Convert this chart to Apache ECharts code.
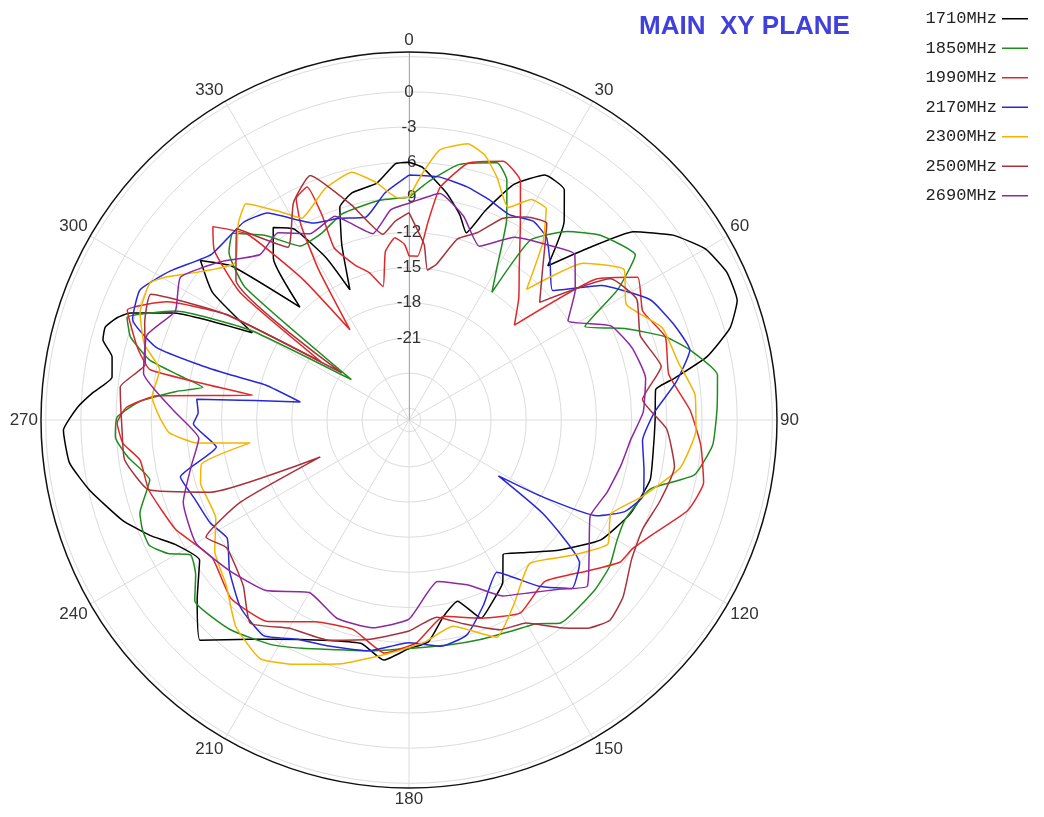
<!DOCTYPE html>
<html><head><meta charset="utf-8">
<script src="https://cdn.jsdelivr.net/npm/echarts@6/dist/echarts.min.js"></script>
<style>html,body{margin:0;padding:0;background:#fff;}#c{width:1044px;height:817px;}</style>
</head><body><div id="c"></div>
<script>
// [angle(deg), gain(dB)]
const f1710 = [[0,-6],[3,-6.4],[9.5,-8.4],[14,-10],[17,-11.3],[20,-9],[24,-6],[29,-4.1],[34,-4.3],[38,-6.5],[42,-10.3],[46,-7],[50,-3],[55,-0.5],[60,1.2],[65,1.9],[70,1.8],[74,0.5],[78,-2],[81,-5],[83,-6.8],[90,-7],[97,-7],[104,-6.8],[113,-7.5],[122,-8.7],[130.7,-11],[140,-13.2],[145,-14],[150,-12],[155,-11],[160,-10],[165,-12],[170,-11],[175,-9],[180,-8.5],[186,-7.4],[192,-8.5],[199.8,-8],[206.4,-7.1],[215.9,-4.9],[223.5,-2.1],[229.7,-4.3],[236.2,-6.5],[242,-5.4],[246,-3.8],[250.7,-2.1],[257.6,-0.1],[262.8,1.2],[268.3,1.5],[272.2,0.3],[274.9,-0.9],[278.2,-2.4],[282,-2.1],[284.7,-1],[287,-0.9],[289.3,-1.6],[291,-2.5],[294.4,-5.9],[299.1,-12.7],[303,-8],[307.4,-5.6],[311,-8],[316,-14.6],[320,-10],[324.8,-7.9],[329,-9],[333,-12.5],[335.6,-15.8],[339,-12],[342,-8.9],[346,-8],[352.3,-7.6],[357,-6.1],[360,-6]];
const f1850 = [[0,-9],[5,-7.5],[11,-5.8],[18.9,-4.8],[22.2,-5.9],[26,-9],[30,-13],[33,-15],[34,-9.5],[40,-7],[46,-5.3],[53.9,-4.1],[58,-7],[62,-11],[67,-8],[72,-5],[76,-3.3],[81.7,-1.4],[88,-1.7],[94.7,-2],[100.9,-3.2],[106,-6.6],[114.8,-7.7],[120,-7.5],[126.2,-6.8],[133,-6.5],[143.4,-6.4],[148,-7.5],[154.5,-8],[162,-8.3],[169.7,-8.5],[180,-8.5],[190,-8],[199,-7.3],[205,-6.5],[211.7,-5.5],[220.4,-4.5],[229.9,-4.1],[234,-5.5],[238.3,-6.1],[241,-4.5],[244.2,-3.4],[247.5,-3.4],[250.9,-3.7],[257,-5.3],[262.5,-3.8],[266.7,-2.9],[270.6,-3.1],[274,-5],[277,-8],[279,-10.2],[281,-8],[283,-5.3],[286.6,-3.2],[290,-2.4],[295,-6],[299.5,-12.4],[305,-22],[309,-10],[313,-7],[316.7,-6.1],[322,-8],[328,-10.5],[335,-10.4],[342,-9.5],[352,-9.1],[360,-9]];
const f1990 = [[0,-14],[3,-14],[5.5,-11],[7.6,-8],[13,-5.5],[20,-4.5],[25,-5.5],[30,-9],[36,-12],[42,-14],[48,-15.9],[53,-8],[58,-5],[65,-6],[72,-5],[80,-5.5],[88,-4],[95,-3],[102,-2.3],[108,-3],[115,-5],[120,-6],[124,-6.3],[130,-8],[140,-10],[150,-9],[160,-10],[170,-11],[178,-9],[186,-8],[195,-9.5],[205,-9],[215,-7],[225,-6.5],[235,-7.5],[245,-6],[255,-5],[261.5,-4.8],[265.4,-3.5],[269.4,-3.1],[272.6,-3.9],[275.5,-6.4],[279,-14.5],[281,-5.5],[285,-4],[291.3,-2.2],[296,-5],[300,-10],[303.5,-19],[307,-10],[311,-6],[314.6,-4.5],[319,-7],[323,-13],[326.8,-18.8],[329,-13],[331,-9],[333,-6.8],[336.4,-6.3],[337,-9],[336.5,-12],[340.8,-14],[345,-15],[349,-16.4],[352,-13.5],[355.6,-12.4],[358.5,-13],[360,-14]];
const f2170 = [[0,-7.1],[7,-7.1],[14,-7.5],[20,-8],[26,-8.5],[32,-8],[37,-8.5],[42,-10],[48,-11.5],[55,-8],[63.5,-5],[70,-4],[76,-3.3],[82,-5],[88,-7],[95,-8],[102,-7.5],[108,-7],[113,-8],[117,-10],[120,-15],[122,-19],[125,-14],[130,-9],[136,-8],[142,-10],[150,-13],[158,-11],[165,-9],[172,-8.5],[180,-9],[190,-8],[200,-7.5],[207,-7],[214,-5.8],[222,-6.5],[230,-8],[237,-9.5],[242.6,-8.9],[250,-8.5],[256,-7.9],[262,-11.4],[269,-9.6],[272,-10],[275.6,-9.8],[276.7,-13.5],[277.8,-16],[279.4,-18.6],[283.7,-15.4],[284.2,-12.2],[284.7,-9.6],[286,-5.6],[290,-2.9],[295.8,-2.5],[302,-4],[310,-6],[320,-6],[325.6,-6.6],[334,-9.3],[341,-9.8],[348,-10.3],[354,-8.5],[360,-7.1]];
const f2300 = [[0,-9],[3,-7],[6.5,-4.8],[12,-3.9],[16,-4.5],[20,-6],[25,-8],[29,-6.5],[33,-6.5],[37,-9],[42,-13],[48,-8],[55,-5.6],[62,-7],[70,-5],[78,-4.5],[85,-3.5],[92,-3.5],[100,-4.5],[108,-7],[115,-9],[122,-8],[130,-10],[140,-12],[150,-10],[158,-8],[168,-10],[176,-9],[185,-8],[195,-6.5],[205,-5],[212,-4],[220,-5],[228,-7],[236,-8],[243,-9.5],[250,-9.5],[253,-9.4],[258,-9.9],[261.8,-14.3],[263.8,-9.8],[267,-7.5],[270.7,-6.7],[275,-6],[281.4,-6.3],[286,-4.5],[291.7,-3.3],[297.9,-3],[300.6,-4],[305,-6],[312,-8],[319,-5.8],[323,-4.9],[328,-7],[332,-8.5],[340,-7],[347,-6.3],[352,-7.5],[357,-9],[360,-9]];
const f2500 = [[0,-10.3],[3,-12],[5,-13],[7,-15.1],[10,-14.5],[15,-12],[20,-11],[25,-9],[30,-8],[35,-7.5],[42,-11],[48,-13],[55,-7],[62,-6],[70,-7],[78,-6],[85,-8],[92,-6],[100,-5],[108,-5.5],[115,-6],[122,-5.6],[129.6,-4.3],[134.9,-3.8],[139.4,-4.6],[144,-6.1],[150,-8],[156.6,-8.5],[165,-10],[172,-11],[180,-10],[190,-9],[200,-8],[210,-7.5],[218,-6],[225,-8],[235,-9],[240,-8],[244,-12],[247.4,-19.8],[250,-10],[255,-5],[262,-3.5],[268,-3.5],[276.5,-3.2],[282,-5],[290,-4],[296,-3.5],[300,-10],[305,-21],[309,-9],[318,-6],[325,-10],[332,-7],[338,-5.5],[345,-9],[352,-12],[356,-11],[360,-10.3]];
const f2690 = [[0,-9.5],[7.8,-8.5],[15,-10],[22,-12],[30,-10],[38,-9],[45,-8],[52,-10],[58,-12],[65,-9],[72,-8],[80,-7.5],[88,-8],[95,-9],[102,-9.5],[110,-10],[118,-10.5],[126,-9],[133,-7.2],[138,-8.6],[145,-10],[152,-11],[160,-13],[170,-14],[180,-11],[190,-10],[200,-10],[210,-11],[220,-9],[230,-8],[240,-7],[250,-7.5],[258,-9],[265,-10],[272,-8],[280,-5],[288,-4.5],[295,-6],[302,-5],[310,-7],[318,-9],[325,-8.5],[332,-10],[340,-9.5],[349,-11.8],[355,-10],[360,-9.5]];

const seriesNames = ['1710MHz','1850MHz','1990MHz','2170MHz','2300MHz','2500MHz','2690MHz'];
const seriesData = [f1710,f1850,f1990,f2170,f2300,f2500,f2690];
const seriesColors = ['#000000','#1e8c1e','#e02828','#2828d8','#f5b400','#a8323c','#8c28a0'];
const radiusLabels = [0,-3,-6,-9,-12,-15,-18,-21];

const chart = echarts.init(document.getElementById('c'));
chart.setOption({
  animation:false,
  backgroundColor:'#fff',
  title:{text:'MAIN  XY PLANE', left:634, top:9,
    textStyle:{color:'#4040dc', fontSize:26, fontWeight:'bold', fontFamily:'Liberation Sans'}},
  legend:{orient:'vertical', right:11, top:5, align:'right', icon:'rect', itemWidth:26, itemHeight:1.5, itemGap:12,
    textStyle:{fontFamily:'Liberation Mono', fontSize:17, lineHeight:17.5, color:'#222'},
    data:seriesNames},
  polar:{center:[409,420], radius:368},
  angleAxis:{type:'value', min:0, max:360, interval:30, startAngle:90, clockwise:true,
    axisLine:{show:true, lineStyle:{color:'#111', width:1.5}},
    axisTick:{show:false},
    axisLabel:{color:'#333', fontSize:17, margin:3, fontFamily:'Liberation Sans'},
    splitLine:{show:true, lineStyle:{color:'#dcdcdc', width:1}}},
  radiusAxis:{type:'value', min:-28, max:3.4, interval:1,
    axisLine:{show:true, lineStyle:{color:'#aaa', width:1}},
    axisTick:{show:false},
    axisLabel:{color:'#333', fontSize:17, margin:0, align:'center', verticalAlign:'middle', fontFamily:'Liberation Sans',
      formatter:function(v){ return radiusLabels.indexOf(v) >= 0 ? String(v) : ''; }},
    splitLine:{show:true, lineStyle:{color:['rgba(0,0,0,0)','#dcdcdc','rgba(0,0,0,0)'], width:1}}},
  series: seriesNames.map(function(n,i){
    return {name:n, type:'line', coordinateSystem:'polar', symbol:'none', smooth:0.15,
      lineStyle:{width:1.5, color:seriesColors[i]}, itemStyle:{color:seriesColors[i]},
      data: seriesData[i].map(function(p){ return [p[1], p[0]]; })};
  })
});
</script></body></html>
